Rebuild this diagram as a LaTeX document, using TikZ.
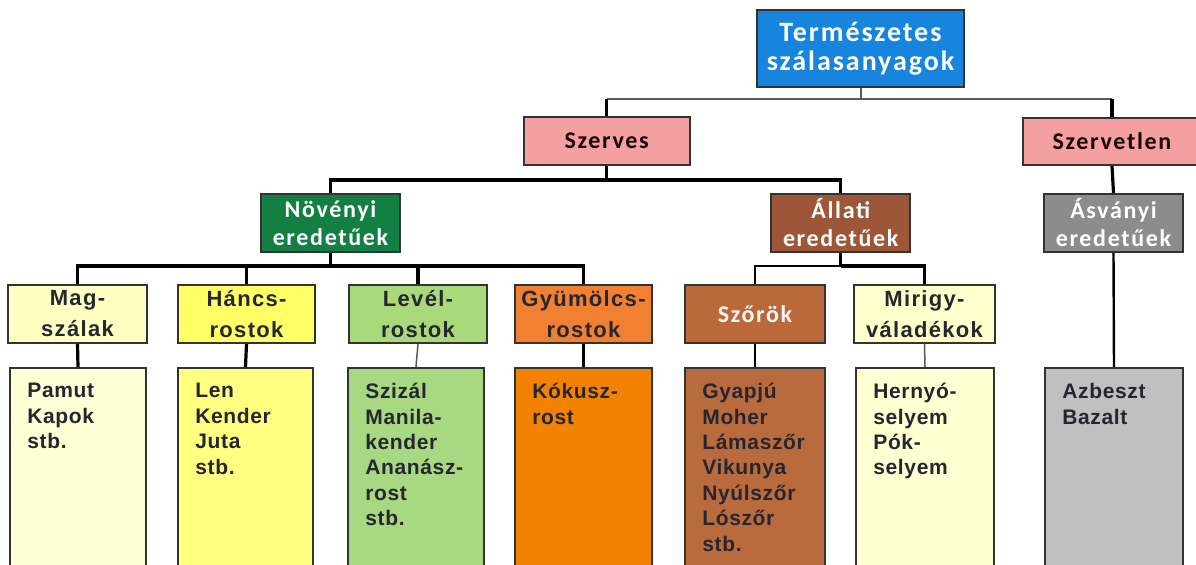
\documentclass[tikz,border=0pt]{standalone}
\usepackage{fontspec}
\setmainfont{Liberation Sans}
\newfontfamily\calfont{Carlito}[LetterSpace=7]
\newfontfamily\arfont{Liberation Sans}[LetterSpace=6]
\newfontfamily\arsmall{Liberation Sans}[LetterSpace=3]
\definecolor{cTop}{HTML}{1784DD}
\definecolor{cPink}{HTML}{F5A0A0}
\definecolor{cGreen}{HTML}{128043}
\definecolor{cBrown}{HTML}{9E5638}
\definecolor{cGray}{HTML}{8C8C8C}
\definecolor{cMag}{HTML}{FFFFC2}
\definecolor{cHancs}{HTML}{FFFF66}
\definecolor{cLevel}{HTML}{A9D97B}
\definecolor{cGyum}{HTML}{F28033}
\definecolor{cSzor}{HTML}{B9693A}
\definecolor{cMirigy}{HTML}{FFFFCC}
\definecolor{cPamut}{HTML}{FFFFD6}
\definecolor{cLen}{HTML}{FFFF80}
\definecolor{cSzizal}{HTML}{A9D882}
\definecolor{cKokusz}{HTML}{F28200}
\definecolor{cGyapju}{HTML}{B96B3D}
\definecolor{cHerny}{HTML}{FFFFD2}
\definecolor{cAzb}{HTML}{C0C0C0}
\definecolor{cTxt}{HTML}{262630}
\tikzset{
  box/.style={draw=black!80, line width=1pt, inner sep=0pt, align=center},
  topf/.style={font=\calfont\bfseries\fontsize{14}{14.5}\selectfont, text=white},
  secf/.style={font=\calfont\bfseries\fontsize{12}{14}\selectfont},
  thirdf/.style={font=\arfont\bfseries\fontsize{11}{15.5}\selectfont, text=cTxt},
  lvltwo/.style={box, minimum width=69.5pt, minimum height=29pt, secf, text=white},
  lvlthree/.style={box, minimum height=29pt, thirdf},
  leaf/.style={box, minimum height=103.5pt},
  leaftext/.style={anchor=north west, inner sep=0pt, align=left, xshift=9pt, yshift=-8pt,
     font=\arsmall\bfseries\fontsize{10.5}{12.7}\selectfont, text=cTxt},
  conn/.style={line width=1.6pt, black},
  medc/.style={line width=1.2pt, black},
  thinc/.style={line width=0.75pt, black!65},
  label distance=0pt
}
\begin{document}
\begin{tikzpicture}[x=0.5pt,y=-0.5pt]
\useasboundingbox (0,0) rectangle (1196,565);
\fill[white] (0,0) rectangle (1196,565);

% level 0
\node[box, fill=cTop, topf, minimum width=103.5pt, minimum height=38.5pt] (top) at (860.5,48.5) {Természetes\\szálasanyagok};
% level 1
\node[box, fill=cPink, secf, text=black!90!red, minimum width=83.25pt, minimum height=24pt] (szerves) at (606.75,141) {Szerves};
\node[box, fill=cPink, secf, text=black!90!red, minimum width=89pt, minimum height=23.5pt] (szervetlen) at (1112,141.5) {Szervetlen};
% level 2
\node[lvltwo, fill=cGreen] (novenyi) at (330.5,223) {Növényi\\eredetűek};
\node[lvltwo, fill=cBrown] (allati) at (840.75,223) {Állati\\eredetűek};
\node[lvltwo, fill=cGray] (asvanyi) at (1113.5,223) {Ásványi\\eredetűek};
% level 3
\node[lvlthree, fill=cMag, minimum width=69.5pt] (mag) at (77.5,314) {Mag-\\szálak};
\node[lvlthree, fill=cHancs, minimum width=68.5pt] (hancs) at (246.5,314) {Háncs-\\rostok};
\node[lvlthree, fill=cLevel, minimum width=69pt] (level) at (418,314) {Levél-\\rostok};
\node[lvlthree, fill=cGyum, minimum width=68.5pt] (gyum) at (583.5,314) {Gyümölcs-\\rostok};
\node[lvlthree, fill=cSzor, minimum width=70pt, secf, text=red!4] (szorok) at (755,314) {Szőrök};
\node[lvlthree, fill=cMirigy, minimum width=70.5pt] (mirigy) at (924.5,314) {Mirigy-\\váladékok};
% level 4
\node[leaf, fill=cPamut, minimum width=68pt, label={[leaftext]north west:Pamut\\Kapok\\stb.}] (pamut) at (78,471.5) {};
\node[leaf, fill=cLen, minimum width=67.5pt, label={[leaftext]north west:Len\\Kender\\Juta\\stb.}] (len) at (245.5,471.5) {};
\node[leaf, fill=cSzizal, minimum width=68pt, label={[leaftext]north west:Szizál\\Manila-\\kender\\Ananász-\\rost\\stb.}] (szizal) at (416,471.5) {};
\node[leaf, fill=cKokusz, minimum width=68.5pt, label={[leaftext]north west:Kókusz-\\rost}] (kokusz) at (583.5,471.5) {};
\node[leaf, fill=cGyapju, minimum width=70pt, label={[leaftext]north west:Gyapjú\\Moher\\Lámaszőr\\Vikunya\\Nyúlszőr\\Lószőr\\stb.}] (gyapju) at (755,471.5) {};
\node[leaf, fill=cHerny, minimum width=69pt, label={[leaftext]north west:Hernyó-\\selyem\\Pók-\\selyem}] (herny) at (925,471.5) {};
\node[leaf, fill=cAzb, minimum width=69pt, label={[leaftext]north west:Azbeszt\\Bazalt}] (azb) at (1114,471.5) {};

% connectors level 0 -> 1
\coordinate (j0) at ([yshift=-5.5pt]top.south);
\draw[thinc, line width=1pt] (top.south) -- (j0);
\draw[thinc, line width=1pt] (j0 -| szerves.north) -- (j0 -| szervetlen.north);
\draw[conn] (j0 -| szerves.north) -- (szerves.north);
\draw[conn] (j0 -| szervetlen.north) -- (szervetlen.north);
% level 1 -> 2
\coordinate (j1) at ([yshift=-7pt]szerves.south);
\draw[conn] (szerves.south) -- (j1);
\draw[conn] (novenyi.north) |- (j1) -| (allati.north);
\draw[conn] (szervetlen.south) -- (asvanyi.north);
% level 2 -> 3
\coordinate (j2) at ([yshift=-6.5pt]novenyi.south);
\draw[conn] (novenyi.south) -- (j2);
\draw[conn] (mag.north) |- (j2) -| (gyum.north);
\draw[conn] (j2 -| hancs.north) -- (hancs.north);
\draw[conn] (j2 -| level.north) -- (level.north);
\coordinate (j3) at ([yshift=-6.5pt]allati.south);
\draw[conn] (allati.south) -- (j3);
\draw[medc] (szorok.north) |- (j3);
\draw[conn] (j3) -| (mirigy.north);
% level 3 -> 4
\draw[conn] (mag.south) -- (pamut.north);
\draw[conn] (hancs.south) -- (len.north);
\draw[thinc] (level.south) -- (szizal.north);
\draw[conn] (gyum.south) -- (kokusz.north);
\draw[medc] (szorok.south) -- (gyapju.north);
\draw[thinc] (mirigy.south) -- (herny.north);
\draw[medc] (asvanyi.south) -- (azb.north);
\end{tikzpicture}
\end{document}
